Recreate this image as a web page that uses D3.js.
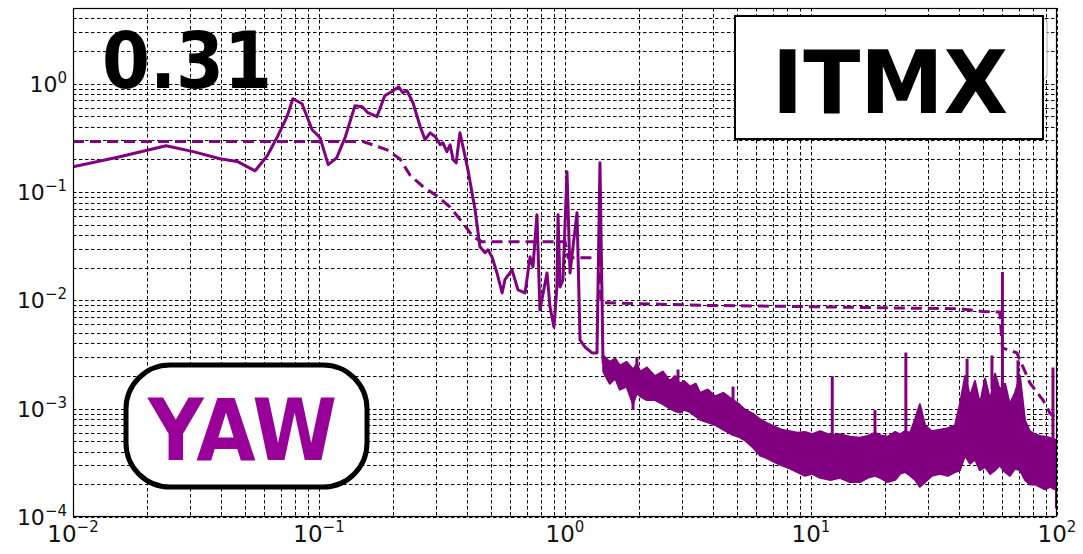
<!DOCTYPE html>
<html>
<head>
<meta charset="utf-8">
<script src="https://cdn.jsdelivr.net/npm/d3@7"></script>
<style>
  body { margin: 0; background: #fff; }
  text { font-family: "DejaVu Sans", sans-serif; }
</style>
</head>
<body>
<script>
// ASD of ITMX yaw

// clean part of the spectrum (Hz, rad/rtHz)
const lineFreq = [0.01, 0.0155, 0.0239, 0.0308, 0.0396, 0.0469, 0.055, 0.0616, 0.0681, 0.0741,
  0.0783, 0.0853, 0.0938, 0.101, 0.109, 0.118, 0.128, 0.14, 0.15, 0.158,
  0.172, 0.185, 0.2, 0.211, 0.219, 0.228, 0.241, 0.258, 0.27, 0.283,
  0.297, 0.311, 0.319, 0.331, 0.341, 0.351, 0.361, 0.374, 0.385, 0.403,
  0.431, 0.451, 0.473, 0.486, 0.505, 0.529, 0.555, 0.57, 0.609, 0.644,
  0.688, 0.721, 0.741, 0.769, 0.791, 0.845, 0.869, 0.902, 0.927, 0.937,
  0.955, 0.981, 1.019, 1.048, 1.078, 1.119, 1.151, 1.205, 1.288, 1.349,
  1.387, 1.426];
const lineVal = [0.171, 0.212, 0.267, 0.236, 0.203, 0.19, 0.157, 0.216, 0.331, 0.496,
  0.726, 0.653, 0.376, 0.317, 0.179, 0.207, 0.324, 0.627, 0.613, 0.54,
  0.496, 0.775, 0.861, 0.938, 0.826, 0.861, 0.667, 0.401, 0.304, 0.352,
  0.324, 0.273, 0.285, 0.236, 0.273, 0.199, 0.186, 0.352, 0.262, 0.161,
  0.0686, 0.0312, 0.0275, 0.0293, 0.0252, 0.0179, 0.0117, 0.0155, 0.0191, 0.0125,
  0.0117, 0.0252, 0.0204, 0.0616, 0.00817, 0.0179, 0.00871, 0.00569, 0.0133, 0.0616,
  0.0133, 0.0155, 0.154, 0.0179, 0.0312, 0.0643, 0.00431, 0.00371, 0.00327, 0.00327,
  0.186, 0.00301];

// noisy part above 1.4 Hz, given as the band the trace fills
const bandFreq = [1.43, 1.52, 1.6, 1.67, 1.78, 1.89, 1.96, 2.02, 2.15, 2.32,
  2.5, 2.67, 2.8, 2.93, 3.05, 3.22, 3.4, 3.54, 3.8, 4.07,
  4.4, 4.82, 5.1, 5.39, 5.8, 6.2, 6.6, 7.14, 7.6, 8.21,
  8.8, 9.45, 10.1, 10.9, 12, 13.1, 14.4, 15.8, 17, 18.2,
  19.1, 20.5, 22, 23, 24.1, 25.3, 26.5, 27.7, 29.1, 31,
  33.4, 36, 38.5, 40.3, 42.3, 44.3, 46.4, 48.6, 51, 53.5,
  56, 58.5, 61.5, 64.3, 67.5, 70.7, 74.1, 77.5, 81.4, 85.3,
  89.4, 93.7, 98.1, 100];
const bandHi = [0.0031, 0.0027, 0.0029, 0.0025, 0.0027, 0.0023, 0.0026, 0.0022, 0.0024, 0.002,
  0.0022, 0.0018, 0.002, 0.0017, 0.0018, 0.0016, 0.0017, 0.0014, 0.0015, 0.0013,
  0.0014, 0.0012, 0.0011, 0.00098, 0.0009, 0.0008, 0.00074, 0.00068, 0.00064, 0.00062,
  0.0006, 0.00061, 0.00058, 0.00062, 0.00057, 0.00058, 0.00055, 0.00054, 0.00056, 0.0006,
  0.00057, 0.00055, 0.00061, 0.00058, 0.00062, 0.0006, 0.0008, 0.0011, 0.0007, 0.00062,
  0.00064, 0.00066, 0.0007, 0.0011, 0.002, 0.0013, 0.0018, 0.0011, 0.0019, 0.0012,
  0.0021, 0.0015, 0.0017, 0.0011, 0.0014, 0.002, 0.00078, 0.00062, 0.00058, 0.00056,
  0.00055, 0.00054, 0.00052, 0.0005];
const bandLo = [0.0022, 0.0017, 0.0019, 0.0015, 0.0016, 0.0011, 0.0014, 0.0013, 0.0012, 0.0012,
  0.0011, 0.001, 0.00095, 0.00092, 0.00098, 0.00093, 0.00085, 0.00079, 0.00075, 0.00071,
  0.00064, 0.00057, 0.00055, 0.00051, 0.00044, 0.00037, 0.00035, 0.00032, 0.0003, 0.00028,
  0.00026, 0.00024, 0.00025, 0.00023, 0.00022, 0.00023, 0.00021, 0.00021, 0.00023, 0.00024,
  0.00023, 0.00021, 0.00022, 0.00025, 0.00026, 0.00024, 0.00022, 0.00019, 0.00021, 0.00024,
  0.00025, 0.00024, 0.00026, 0.00027, 0.00037, 0.00031, 0.00034, 0.00027, 0.00029, 0.00025,
  0.00027, 0.0003, 0.00026, 0.00024, 0.00028, 0.00027, 0.00022, 0.0002, 0.0002, 0.00019,
  0.00018, 0.00019, 0.00018, 0.00019];

// narrow lines sticking out of the band
const spikeFreq = [1.89, 1.96, 2.88, 4.82, 12.2, 18.2, 24.3, 43.1, 54.4, 60, 69.4, 96.3, 99.5];
const spikeTop = [0.0015, 0.003, 0.0023, 0.0016, 0.002, 0.00097, 0.0033, 0.0029, 0.0031, 0.0183, 0.0028, 0.0024, 0.0003];
const spikeBase = [0.00097, 0.002, 0.0015, 0.001, 0.0005, 0.0005, 0.0005, 0.0012, 0.0015, 0.0015, 0.0012, 0.0005, 0.00012];

// cumulative rms (dashed)
const rmsFreq = [0.01, 0.151, 0.189, 0.213, 0.234, 0.265, 0.302, 0.341, 0.385, 0.423,
  0.46, 0.815, 1.0, 1.03, 1.152, 1.38, 1.4, 1.48, 3.54, 9.02,
  40.4, 50, 58.5, 60, 68.7, 77.6, 87.7, 93.7, 100];
const rmsVal = [0.293, 0.293, 0.245, 0.203, 0.144, 0.112, 0.0918, 0.0726, 0.0517, 0.0386,
  0.0347, 0.0347, 0.0347, 0.0247, 0.0247, 0.0247, 0.0095, 0.0095, 0.009, 0.00877,
  0.00835, 0.00788, 0.0078, 0.00364, 0.00327, 0.00173, 0.0012, 0.00091, 0.00079];

const xExps = [-2, -1, 0, 1, 2];
const yExps = [-4, -3, -2, -1, 0];

const width = 1083,
    height = 554;
const plotLeft = 73, plotRight = 1057, plotTop = 8, plotBottom = 517;
const purple = "#800080";

const svg = d3.select("body").append("svg")
    .attr("width", width)
    .attr("height", height);

const x = d3.scaleLog().domain([0.01, 100]).range([plotLeft, plotRight]);
const y = d3.scaleLog().domain([1e-4, 5]).range([plotBottom, plotTop]);

// grid
const grid = svg.append("g")
    .attr("stroke", "#000")
    .attr("stroke-width", 1)
    .attr("stroke-dasharray", "3.5,2.5");

grid.selectAll(".vx")
    .data(x.ticks())
    .join("line")
    .attr("x1", d => Math.round(x(d)) + 0.5)
    .attr("x2", d => Math.round(x(d)) + 0.5)
    .attr("y1", plotTop)
    .attr("y2", plotBottom);

grid.selectAll(".hy")
    .data(y.ticks().filter(d => d <= 5))
    .join("line")
    .attr("y1", d => Math.round(y(d)) + 0.5)
    .attr("y2", d => Math.round(y(d)) + 0.5)
    .attr("x1", plotLeft)
    .attr("x2", plotRight);

svg.append("clipPath").attr("id", "plot")
    .append("rect")
    .attr("x", plotLeft).attr("y", plotTop)
    .attr("width", plotRight - plotLeft).attr("height", plotBottom - plotTop);

const plot = svg.append("g").attr("clip-path", "url(#plot)");

// dashed rms
const rms = rmsFreq.map((f, i) => [f, rmsVal[i]]);
plot.append("path")
    .datum(rms)
    .attr("fill", "none")
    .attr("stroke", purple)
    .attr("stroke-width", 3)
    .attr("stroke-dasharray", "11,6")
    .attr("d", d3.line().x(d => x(d[0])).y(d => y(d[1])));

// solid trace
const trace = lineFreq.map((f, i) => [f, lineVal[i]]);
trace.push([bandFreq[0], Math.sqrt(bandHi[0] * bandLo[0])]);
plot.append("path")
    .datum(trace)
    .attr("fill", "none")
    .attr("stroke", purple)
    .attr("stroke-width", 3)
    .attr("stroke-linejoin", "round")
    .attr("d", d3.line().x(d => x(d[0])).y(d => y(d[1])));

const band = bandFreq.map((f, i) => ({f: f, hi: bandHi[i], lo: bandLo[i]}));
plot.append("path")
    .datum(band)
    .attr("fill", purple)
    .attr("stroke", purple)
    .attr("stroke-width", 2)
    .attr("stroke-linejoin", "round")
    .attr("d", d3.area().x(d => x(d.f)).y0(d => y(d.lo)).y1(d => y(d.hi)));

plot.selectAll(".spike")
    .data(spikeFreq)
    .join("line")
    .attr("stroke", purple)
    .attr("stroke-width", 3)
    .attr("x1", d => x(d))
    .attr("x2", d => x(d))
    .attr("y1", (d, i) => y(spikeBase[i]))
    .attr("y2", (d, i) => y(spikeTop[i]));

// frame
svg.append("rect")
    .attr("x", plotLeft + 0.5).attr("y", plotTop + 0.5)
    .attr("width", plotRight - plotLeft - 1).attr("height", plotBottom - plotTop - 1)
    .attr("fill", "none")
    .attr("stroke", "#000")
    .attr("stroke-width", 1.2);

// tick labels
svg.selectAll(".ylab")
    .data(yExps)
    .join("text")
    .attr("x", 67)
    .attr("y", d => y(Math.pow(10, d)) + 8)
    .attr("text-anchor", "end")
    .attr("font-size", 22)
    .attr("fill", "#111")
    .each(function(d) {
        const t = d3.select(this);
        t.append("tspan").text("10");
        t.append("tspan").attr("dy", -9).attr("font-size", 15).text(d < 0 ? "\u2212" + (-d) : d);
    });

svg.selectAll(".xlab")
    .data(xExps)
    .join("text")
    .attr("x", d => x(Math.pow(10, d)))
    .attr("y", 542)
    .attr("text-anchor", "middle")
    .attr("font-size", 23)
    .attr("fill", "#111")
    .each(function(d) {
        const t = d3.select(this);
        t.append("tspan").text("10");
        t.append("tspan").attr("dy", -10).attr("font-size", 15).text(d < 0 ? "\u2212" + (-d) : d);
    });

// annotations
svg.append("text")
    .attr("x", 102)
    .attr("y", 88)
    .attr("font-size", 78)
    .attr("font-weight", "bold")
    .attr("fill", "#000")
    .attr("textLength", 170)
    .attr("lengthAdjust", "spacingAndGlyphs")
    .text("0.31");

// remains of a legend frame behind the label
svg.append("rect")
    .attr("x", 760).attr("y", 18)
    .attr("width", 287).attr("height", 62)
    .attr("rx", 5)
    .attr("fill", "#fff")
    .attr("stroke", "#aaa")
    .attr("stroke-width", 1);

svg.append("rect")
    .attr("x", 735).attr("y", 16)
    .attr("width", 308).attr("height", 123)
    .attr("fill", "#fff")
    .attr("stroke", "#000")
    .attr("stroke-width", 2);

svg.append("text")
    .attr("x", 772)
    .attr("y", 113)
    .attr("font-size", 88)
    .attr("font-weight", "bold")
    .attr("fill", "#000")
    .attr("textLength", 236)
    .attr("lengthAdjust", "spacingAndGlyphs")
    .text("ITMX");

svg.append("rect")
    .attr("x", 126).attr("y", 365)
    .attr("width", 241).attr("height", 122)
    .attr("rx", 44)
    .attr("fill", "#fff")
    .attr("stroke", "#000")
    .attr("stroke-width", 5);

svg.append("text")
    .attr("x", 148)
    .attr("y", 460)
    .attr("font-size", 86)
    .attr("font-weight", "bold")
    .attr("fill", "#990099")
    .attr("textLength", 189)
    .attr("lengthAdjust", "spacingAndGlyphs")
    .text("YAW");
</script>
</body>
</html>
